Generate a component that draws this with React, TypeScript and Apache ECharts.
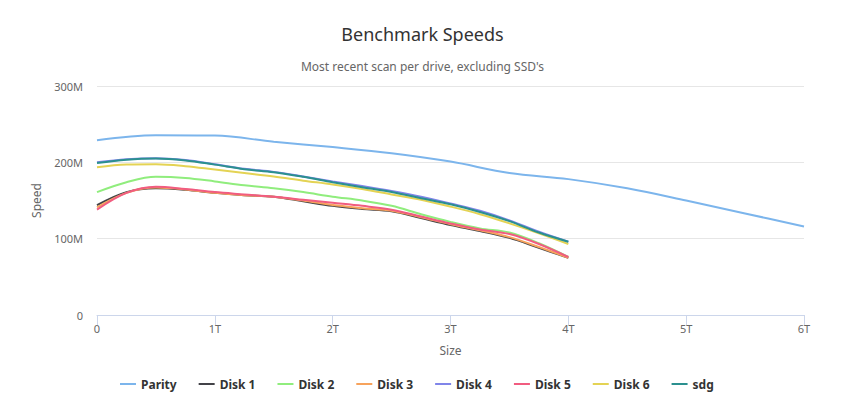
import React, { useEffect, useRef } from "react";
import * as echarts from "echarts";

const diskSizes = [0, 0.25, 0.5, 0.75, 1, 1.25, 1.5, 1.75, 2, 2.25, 2.5, 2.75, 3, 3.25, 3.5, 3.75, 4];
const paritySizes = [0, 0.5, 1, 1.5, 2, 2.5, 3, 3.5, 4, 4.5, 5, 5.5, 6];

const parity = [229, 235.5, 235, 227, 220, 212, 201, 186, 178, 166, 150, 133, 116];
const disk1 = [144, 161, 166, 164, 160, 157, 155, 149, 143, 139, 136, 127, 118, 110, 101, 88, 75];
const disk2 = [161, 174, 181, 179.5, 175, 170, 166, 161, 155, 150, 143, 132, 122, 113.5, 108, 94, 76];
const disk3 = [141, 160, 167, 164.5, 160, 157, 155, 150, 144, 140, 136.5, 128, 119, 111, 102, 89, 75];
const disk4 = [200, 204, 205.5, 203, 197.5, 191.5, 187.5, 181.5, 175, 169, 162.5, 155, 146, 136.5, 124, 109, 96];
const disk5 = [138, 160, 168, 165, 161, 158, 155, 151, 147, 143, 138, 129, 120, 112, 106, 93, 76];
const disk6 = [193.5, 197, 197.5, 195, 190.5, 186, 181.5, 176, 171, 165, 158, 151, 142, 132, 120, 107, 93];
const sdg = [199, 203.5, 205, 202.5, 197, 191, 187, 181, 174, 167.5, 161, 153, 145, 135, 123, 108, 96];

const seriesNames = ["Parity", "Disk 1", "Disk 2", "Disk 3", "Disk 4", "Disk 5", "Disk 6", "sdg"];
const seriesColors = ["#7cb5ec", "#434348", "#90ed7d", "#f7a35c", "#8085e9", "#f15c80", "#e4d354", "#2b908f"];
const xTicks = [0, 1, 2, 3, 4, 5, 6];
const yTicks = [0, 100, 200, 300];

const FONT = "'Noto Sans', sans-serif";

export default function App() {
  const ref = useRef<HTMLDivElement>(null);
  useEffect(() => {
    if (!ref.current) return;
    document.body.style.margin = "0";
    const chart = echarts.init(ref.current, null, { renderer: "svg" });
    const diskData = [disk1, disk2, disk3, disk4, disk5, disk6, sdg];
    const series: any[] = [
      {
        name: seriesNames[0],
        type: "line",
        smooth: 0.35,
        showSymbol: false,
        data: paritySizes.map((x, i) => [x, parity[i]]),
        lineStyle: { width: 2, color: seriesColors[0] },
        itemStyle: { color: seriesColors[0] },
      },
      ...diskData.map((arr, k) => ({
        name: seriesNames[k + 1],
        type: "line",
        smooth: 0.35,
        showSymbol: false,
        data: diskSizes.map((x, i) => [x, arr[i]]),
        lineStyle: { width: 2, color: seriesColors[k + 1] },
        itemStyle: { color: seriesColors[k + 1] },
      })),
    ];
    chart.setOption({
      animation: false,
      textStyle: { fontFamily: FONT },
      title: [
        {
          text: "Benchmark Speeds",
          left: "center",
          top: 20,
          textStyle: { fontFamily: FONT, fontSize: 18, fontWeight: "normal", color: "#333333" },
        },
        {
          text: "Most recent scan per drive, excluding SSD's",
          left: "center",
          top: 55,
          textStyle: { fontFamily: FONT, fontSize: 12, fontWeight: "normal", color: "#666666" },
        },
      ],
      legend: {
        data: seriesNames,
        bottom: 11,
        left: 115,
        icon: "rect",
        itemWidth: 16,
        itemHeight: 2,
        itemGap: 22,
        textStyle: { fontFamily: FONT, fontSize: 12, fontWeight: "bold", color: "#333333" },
      },
      grid: { left: 97, right: 41, top: 86, bottom: 91, containLabel: false },
      xAxis: {
        type: "value",
        min: 0,
        max: 6,
        interval: 1,
        name: "Size",
        nameLocation: "middle",
        nameGap: 29,
        nameTextStyle: { color: "#666666", fontSize: 12, fontFamily: FONT },
        axisLine: { show: true, lineStyle: { color: "#ccd6eb", width: 1 } },
        axisTick: { show: true, length: 10, lineStyle: { color: "#ccd6eb" } },
        splitLine: { show: false },
        axisLabel: {
          color: "#666666",
          fontSize: 11,
          margin: 8,
          fontFamily: FONT,
          formatter: (v: number) => (xTicks.includes(v) ? (v === 0 ? "0" : v + "T") : ""),
        },
      },
      yAxis: {
        type: "value",
        min: 0,
        max: 300,
        interval: 100,
        name: "Speed",
        nameLocation: "middle",
        nameGap: 55,
        nameRotate: 90,
        nameTextStyle: { color: "#666666", fontSize: 12, fontFamily: FONT },
        axisLine: { show: false },
        axisTick: { show: false },
        splitLine: { lineStyle: { color: "#e6e6e6", width: 1 } },
        axisLabel: {
          color: "#666666",
          fontSize: 11,
          margin: 14,
          fontFamily: FONT,
          formatter: (v: number) => (yTicks.includes(v) ? (v === 0 ? "0" : v + "M") : ""),
        },
      },
      series,
    });
    return () => chart.dispose();
  }, []);
  return <div ref={ref} style={{ width: 845, height: 406 }} />;
}
